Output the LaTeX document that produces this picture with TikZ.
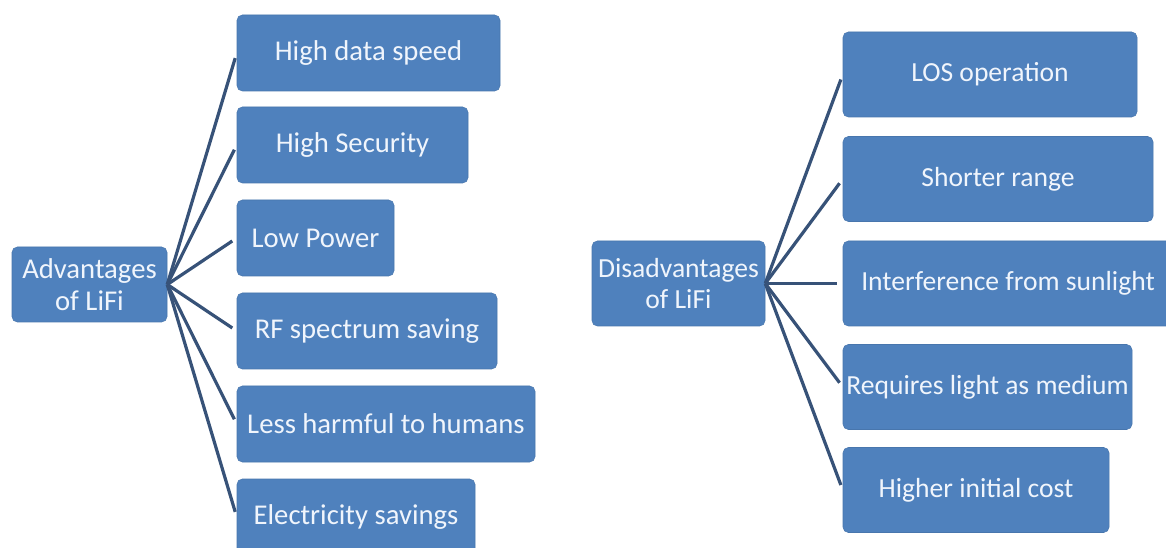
\documentclass[tikz,border=0pt]{standalone}
\usepackage{fontspec}
\setmainfont{Carlito}

\definecolor{boxblue}{RGB}{79,129,189}
\definecolor{boxedge}{RGB}{72,118,173}
\definecolor{boxtext}{RGB}{240,245,252}
\definecolor{linkblue}{RGB}{55,82,120}

\begin{document}
\begin{tikzpicture}[x=0.75pt,y=-0.75pt,
                    box/.style={rectangle,rounded corners=4pt,fill=boxblue,draw=boxedge,
                    text=boxtext,inner sep=0pt,minimum height=57pt,align=center,
                    font=\fontsize{21.5}{23.5}\selectfont},
                    tallbox/.style={box,minimum height=63.75pt,
                    font=\fontsize{20.7}{23.5}\selectfont},
                    link/.style={draw=linkblue,line width=2.4pt,shorten >=4pt}]

\useasboundingbox[fill=white] (0,0) rectangle (1166,548);


\node[box,minimum width=116.25pt,minimum height=56.25pt] (adv) at(89.5,284.5) {Advantages\\of LiFi};

\node[box,minimum width=197.25pt] (a1) at(368.5,53) {High data speed};
\node[box,minimum width=173.25pt] (a2) at(352.5,145) {High Security};
\node[box,minimum width=117.75pt] (a3) at(315.5,238) {Low Power};
\node[box,minimum width=195pt] (a4) at(367,331) {RF spectrum saving};
\node[box,minimum width=223.5pt] (a5) at(386,424) {Less harmful to humans};
\node[box,minimum width=178.5pt] (a6) at(356,517) {Electricity savings};


\node[tallbox,minimum width=129.75pt] (dis) at(678.5,283.5) {Disadvantages\\of LiFi};

\node[tallbox,minimum width=220.5pt] (d1) at(990,74.5) {LOS operation};
\node[tallbox,minimum width=232.5pt] (d2) at(998,179) {Shorter range};
\node[tallbox,minimum width=247.5pt] (d3) at(1008,283.5) {Interference from sunlight};
\node[tallbox,minimum width=216.75pt] (d4) at(987.5,387) {Requires light as medium};
\node[tallbox,minimum width=199.5pt] (d5) at(976,490) {Higher initial cost};


\draw[link]
(adv.east) edge (a1.west)
(adv.east) edge (a2.west)
(adv.east) edge (a3.west)
(adv.east) edge (a4.west)
(adv.east) edge (a5.west)
(adv.east) edge (a6.west)


(dis.east) edge (d1.west)
(dis.east) edge (d2.west)
(dis.east) edge (d3.west)
(dis.east) edge (d4.west)
(dis.east) edge (d5.west)
;\end{tikzpicture}
\end{document}
